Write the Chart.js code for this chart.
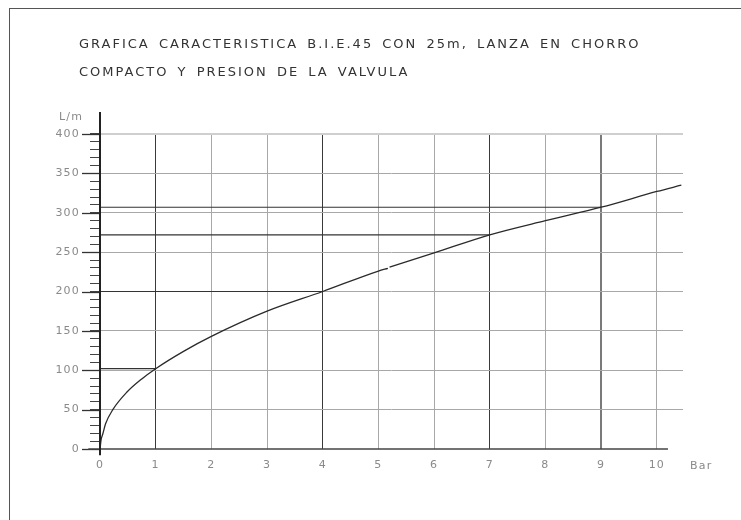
<!DOCTYPE html>
<html>
<head>
<meta charset="utf-8">
<script src="https://cdn.jsdelivr.net/npm/chart.js@4/dist/chart.umd.min.js"></script>
<style>
  body { margin: 0; background: #fff; }
</style>
</head>
<body>
<canvas id="chart" width="741" height="520"></canvas>
<script>
// curve (pressure in bar, flow in L/min), null = the small break in the drawn line
var pressure = [0, 0.02, 0.05, 0.1, 0.23, 0.48, 0.75, 1, 1.5, 2, 3, 4, 5, 5.17, 5.18, 5.2, 6, 7, 8, 9, 10, 10.44];
var flow     = [0, 12, 19, 32, 50, 72, 89, 102, 124, 143, 175, 200, 226, 229.5, null, 231, 249, 272, 290, 307, 327, 335];

// reference points marked on the chart
var refP = [1, 4, 7, 9];
var refQ = [102, 200, 272, 307];

var xTicks = [0, 1, 2, 3, 4, 5, 6, 7, 8, 9, 10];
var yTicks = [0, 50, 100, 150, 200, 250, 300, 350, 400];

var titleLines = ['GRAFICA CARACTERISTICA B.I.E.45 CON 25m, LANZA EN CHORRO', 'COMPACTO Y PRESION DE LA VALVULA'];
var yUnit = 'L/m';
var xUnit = 'Bar';

var curve = pressure.map(function(p, i) { return {x: p, y: flow[i]}; });

var datasets = [{
    data: curve,
    borderColor: '#2a2a2a',
    borderWidth: 1.3,
    pointRadius: 0,
    cubicInterpolationMode: 'monotone',
    spanGaps: false
}];
for (var j = 0; j < refP.length; j++) {
    datasets.push({
        data: [{x: 0, y: refQ[j]}, {x: refP[j], y: refQ[j]}],
        borderColor: '#333',
        borderWidth: 1.2,
        pointRadius: 0
    });
}

var darkLines = {1: '#3a3a3a', 4: '#3a3a3a', 7: '#3a3a3a', 9: '#7a7a7a'};

var decor = {
    id: 'decor',
    beforeDraw: function(chart) {
        chart.ctx.letterSpacing = '1.2px';
    },
    afterDraw: function(chart) {
        var ctx = chart.ctx;
        var xs = chart.scales.x, ys = chart.scales.y;
        var x0 = xs.getPixelForValue(0);
        ctx.save();
        // page frame
        ctx.strokeStyle = '#555';
        ctx.lineWidth = 1;
        ctx.strokeRect(9.5, 8.5, 800, 600);

        // longer major ticks
        ctx.strokeStyle = '#333';
        ctx.lineWidth = 1.3;
        yTicks.forEach(function(v) {
            var py = Math.round(ys.getPixelForValue(v)) + 0.5;
            ctx.beginPath();
            ctx.moveTo(x0 - 18, py);
            ctx.lineTo(x0, py);
            ctx.stroke();
        });

        // axis lines
        ctx.strokeStyle = '#444';
        ctx.lineWidth = 1.5;
        ctx.beginPath();
        ctx.moveTo(xs.getPixelForValue(-0.21), ys.getPixelForValue(0));
        ctx.lineTo(xs.getPixelForValue(10.2), ys.getPixelForValue(0));
        ctx.stroke();
        ctx.strokeStyle = '#222';
        ctx.lineWidth = 2;
        ctx.beginPath();
        ctx.moveTo(x0, ys.getPixelForValue(-8));
        ctx.lineTo(x0, ys.getPixelForValue(428));
        ctx.stroke();

        // title
        ctx.fillStyle = '#333';
        ctx.font = '13px "DejaVu Sans"';
        ctx.letterSpacing = '2px';
        ctx.wordSpacing = '3px';
        ctx.textBaseline = 'middle';
        ctx.textAlign = 'left';
        ctx.fillText(titleLines[0], 79, 45);
        ctx.fillText(titleLines[1], 79, 73);

        // axis units
        ctx.fillStyle = '#8a8a8a';
        ctx.font = '11px "DejaVu Sans"';
        ctx.letterSpacing = '1.2px';
        ctx.wordSpacing = '0px';
        ctx.textAlign = 'center';
        ctx.fillText(yUnit, 71, 117);
        ctx.textAlign = 'left';
        ctx.fillText(xUnit, 690, 466);
        ctx.restore();
    }
};

new Chart(document.getElementById('chart'), {
    type: 'line',
    data: {datasets: datasets},
    options: {
        responsive: false,
        animation: false,
        layout: {padding: {left: 0, top: 134, right: 58, bottom: 41}},
        plugins: {legend: {display: false}, tooltip: {enabled: false}, title: {display: false}},
        scales: {
            x: {
                type: 'linear',
                min: 0,
                max: 10.47,
                border: {display: false},
                afterFit: function(s) { s.height = 30; },
                afterBuildTicks: function(s) { s.ticks = xTicks.map(function(v) { return {value: v}; }); },
                ticks: {
                    includeBounds: false,
                    autoSkip: false,
                    maxRotation: 0,
                    padding: 10,
                    color: '#8a8a8a',
                    font: {family: 'DejaVu Sans', size: 11}
                },
                grid: {
                    drawTicks: false,
                    color: function(c) {
                        var v = c.tick && c.tick.value;
                        if (v === 0) return 'rgba(0,0,0,0)';
                        return darkLines[v] || '#a8a8a8';
                    },
                    lineWidth: function(c) {
                        var v = c.tick && c.tick.value;
                        return v === 9 ? 2 : 1;
                    }
                }
            },
            y: {
                type: 'linear',
                min: 0,
                max: 400,
                border: {display: false},
                afterFit: function(s) { s.width = 100; },
                ticks: {
                    stepSize: 10,
                    autoSkip: false,
                    padding: 10,
                    color: '#8a8a8a',
                    font: {family: 'DejaVu Sans', size: 11},
                    callback: function(v) { return v % 50 === 0 ? String(v) : ''; }
                },
                grid: {
                    tickLength: 10,
                    tickColor: '#444',
                    color: function(c) {
                        var v = c.tick && c.tick.value;
                        if (v === 0 || v % 50 !== 0) return 'rgba(0,0,0,0)';
                        if (v === 400) return '#cfcfcf';
                        return '#a8a8a8';
                    },
                    lineWidth: function(c) {
                        var v = c.tick && c.tick.value;
                        return v === 400 ? 2 : 1;
                    }
                }
            }
        }
    },
    plugins: [decor]
});
</script>
</body>
</html>
